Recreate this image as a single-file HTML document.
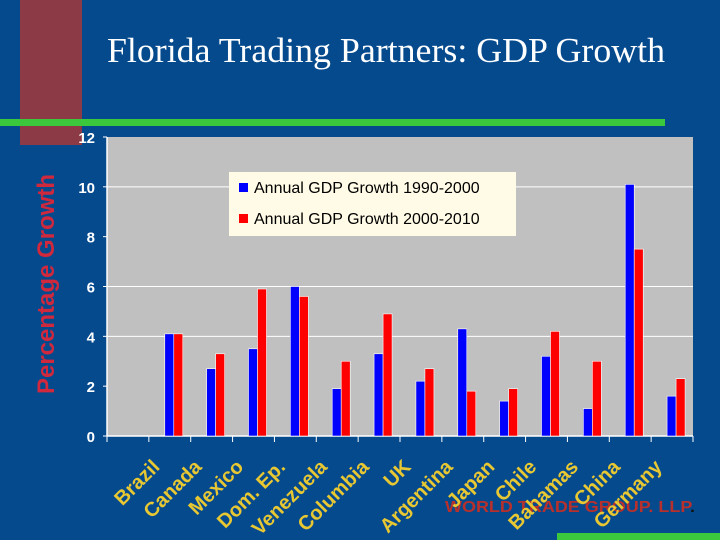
<!DOCTYPE html>
<html><head><meta charset="utf-8"><style>
body{margin:0;width:720px;height:540px;overflow:hidden;background:#064a8e;}
svg{display:block;}
</style></head><body>
<svg width="720" height="540" xmlns="http://www.w3.org/2000/svg">
<rect x="20" y="0" width="62" height="145" fill="#8c3a46"/>
<rect x="0" y="119" width="665" height="7" fill="#3cc83c"/>
<rect x="557" y="533" width="163" height="7" fill="#3cc83c"/>
<text x="107" y="62" textLength="558" lengthAdjust="spacingAndGlyphs" font-family="Liberation Serif, serif" font-size="35" fill="#fff">Florida Trading Partners: GDP Growth</text>
<g id="plot"></g>
<text transform="translate(54,284) rotate(-90)" text-anchor="middle" font-family="Liberation Sans, sans-serif" font-weight="bold" font-size="24" fill="#d0283c">Percentage Growth</text>
<text x="445" y="512" textLength="250" lengthAdjust="spacingAndGlyphs" font-family="Liberation Sans, sans-serif" font-weight="bold" font-size="16" fill="#b8302c">WORLD TRADE GROUP. LLP<tspan fill="#111">.</tspan></text>
<g id="xlabels"></g>
<rect x="229" y="172" width="287" height="64" fill="#fffbe6"/>
<rect x="239" y="183" width="9" height="9" fill="#0000ff"/>
<text x="254" y="193" font-family="Liberation Sans, sans-serif" font-size="16" fill="#000">Annual GDP Growth 1990-2000</text>
<rect x="239" y="214" width="9" height="9" fill="#ff0000"/>
<text x="254" y="224" font-family="Liberation Sans, sans-serif" font-size="16" fill="#000">Annual GDP Growth 2000-2010</text>
</svg>
<script>
const categories=["Brazil","Canada","Mexico","Dom. Ep.","Venezuela","Columbia","UK","Argentina","Japan","Chile","Bahamas","China","Germany"];
const growth1990=[4.1,2.7,3.5,6.0,1.9,3.3,2.2,4.3,1.4,3.2,1.1,10.1,1.6];
const growth2000=[4.1,3.3,5.9,5.6,3.0,4.9,2.7,1.8,1.9,4.2,3.0,7.5,2.3];
const yTicks=[0,2,4,6,8,10,12];
const gridValues=[4,6,10];
const NS="http://www.w3.org/2000/svg";
const X0=107,X1=693,Y0=436,Y1=137,N=14;
const slot=(X1-X0)/N;
const ys=v=>Y0-(v-0)/(12-0)*(Y0-Y1);
const xs=i=>X0+(i+1.5)*slot;
const plot=document.getElementById('plot');
function mk(tag,attrs,parent){const e=document.createElementNS(NS,tag);for(const k in attrs)e.setAttribute(k,attrs[k]);(parent||plot).appendChild(e);return e;}
let bg=mk('rect',{x:X0,y:Y1,width:X1-X0,height:Y0-Y1,fill:'#c0c0c0'});


gridValues.forEach(v=>{const l=mk('line',{x1:X0,x2:X1,y1:ys(v),y2:ys(v),stroke:'#fff','stroke-width':1});

});
let ax=mk('line',{x1:X0,x2:X0,y1:Y1,y2:Y0,stroke:'#fff','stroke-width':1.5});


let bx=mk('line',{x1:X0,x2:X1,y1:Y0,y2:Y0,stroke:'#fff','stroke-width':1.5});


yTicks.forEach(v=>{const t=mk('text',{x:95,y:ys(v)+6,'text-anchor':'end','font-family':'Liberation Sans, sans-serif','font-weight':'bold','font-size':15,fill:'#fff'});t.textContent=v;


const tk=mk('line',{x1:X0-4,x2:X0,y1:ys(v),y2:ys(v),stroke:'#fff'});

});
for(let i=0;i<=N;i++){const tk=mk('line',{x1:X0+i*slot,x2:X0+i*slot,y1:Y0,y2:Y0+6,stroke:'#fff'});

}
const bw=9;
growth1990.forEach((v,i)=>{const c=xs(i)+4;
const b=mk('rect',{x:c-bw,y:ys(v),width:bw,height:Y0-ys(v),fill:'#0000ff',stroke:'#fff','stroke-width':0.6});

});
growth2000.forEach((v,i)=>{const c=xs(i)+4;
const b=mk('rect',{x:c,y:ys(v),width:bw,height:Y0-ys(v),fill:'#ff0000',stroke:'#fff','stroke-width':0.6});

});
const xl=document.getElementById('xlabels');
categories.forEach((name,i)=>{const cx=X0+(i+1)*slot+12;
const t=mk('text',{transform:`translate(${cx},${468}) rotate(-45)`,'text-anchor':'end','font-family':'Liberation Sans, sans-serif','font-weight':'bold','font-size':20,fill:'#e8c832'},xl);
t.textContent=name;

});
</script>
</body></html>
